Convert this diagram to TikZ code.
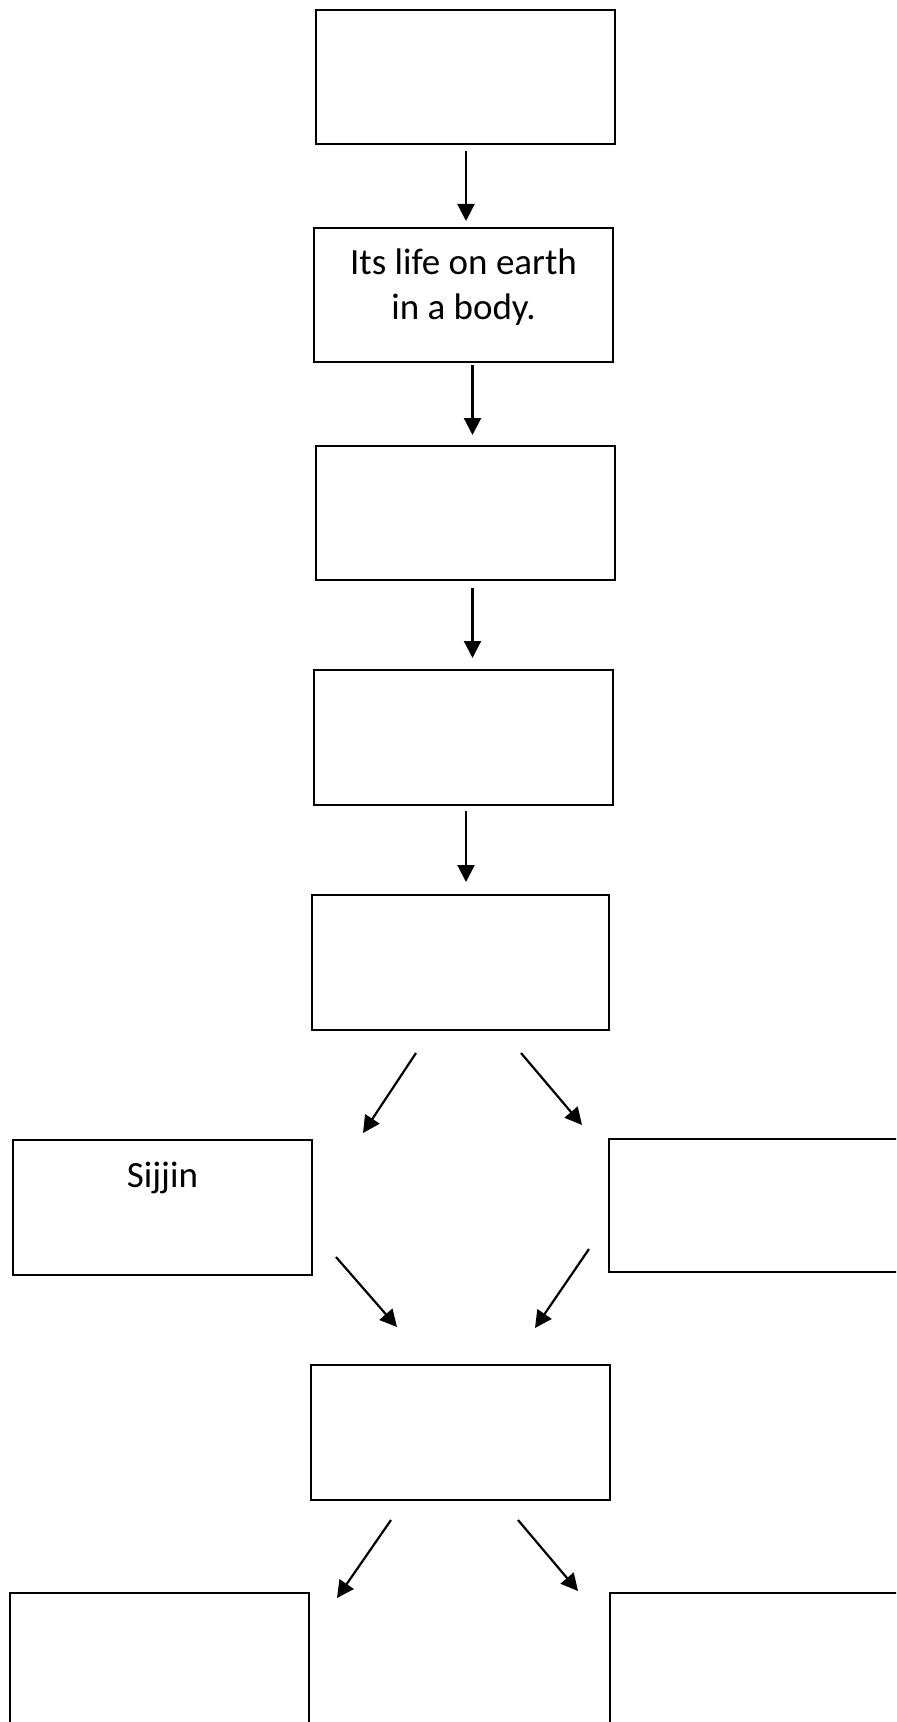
\documentclass[tikz,border=0pt]{standalone}
\usepackage{fontspec}
\setmainfont{Carlito}
\usetikzlibrary{arrows.meta,calc}
\tikzset{
  box/.style={draw=black, line width=1pt, rectangle, inner sep=0pt, outer sep=0pt,
    minimum width=149.5pt, minimum height=67pt},
  lbl/.style={inner sep=0pt, outer sep=0pt, align=center,
    font=\fontsize{18.5pt}{22.5pt}\selectfont},
  arr/.style={line width=1.1pt, -{Triangle[length=8.5pt,width=8.5pt]}}
}
\begin{document}
\begin{tikzpicture}[x=0.5pt,y=-0.5pt]
\useasboundingbox (0,0) rectangle (896,1722);
\clip (0,0) rectangle (896,1722);
\fill[white] (0,0) rectangle (896,1722);

\node[box] (b1) at (465.5,77) {};
\node[box] (b2) at (463.5,295) {};
\node[box] (b3) at (465.5,513) {};
\node[box, minimum height=67.5pt] (b4) at (463.5,737.5) {};
\node[box, minimum width=148.5pt, minimum height=67.5pt] (b5) at (460.5,962.5) {};
\node[box, minimum height=67.5pt] (b6) at (162.5,1207.5) {};
\node[box, minimum height=66.5pt] (b7) at (758.5,1205.5) {};
\node[box, minimum height=67.5pt] (b8) at (460.5,1432.5) {};
\node[box, minimum height=67.5pt] (b9) at (159.5,1660.5) {};
\node[box, minimum height=67.5pt] (b10) at (759.5,1660.5) {};

\node[lbl, anchor=base] (t2) at ([yshift=-46pt]b2.north) {Its life on earth\\in a body.};
\node[lbl, anchor=base] (t6) at ([yshift=-23.5pt]b6.north) {Sijjin};

\draw[arr] ($(b1.south)+(0.5,7)$) -- ($(b2.north)+(2.5,-7)$);
\draw[arr] ($(b2.south)+(9,3)$) -- ($(b3.north)+(7,-11)$);
\draw[arr] ($(b3.south)+(7,8)$) -- ($(b4.north)+(9,-12)$);
\draw[arr] ($(b4.south)+(2.5,6)$) -- ($(b5.north)+(5.5,-13)$);
\draw[arr] ($(b5.south)+(-44.5,23)$) -- ($(b6.north east)+(51,-7)$);
\draw[arr] ($(b5.south)+(60.5,23)$) -- ($(b7.north west)+(-27,-14)$);
\draw[arr] ($(b6.south east)+(24,-18)$) -- ($(b8.north west)+(86,-38)$);
\draw[arr] ($(b7.south west)+(-20,-23)$) -- ($(b8.north east)+(-75,-37)$);
\draw[arr] ($(b8.south)+(-69.5,20)$) -- ($(b9.north east)+(28,5)$);
\draw[arr] ($(b8.south)+(57.5,20)$) -- ($(b10.north west)+(-32,-2)$);
\end{tikzpicture}
\end{document}
